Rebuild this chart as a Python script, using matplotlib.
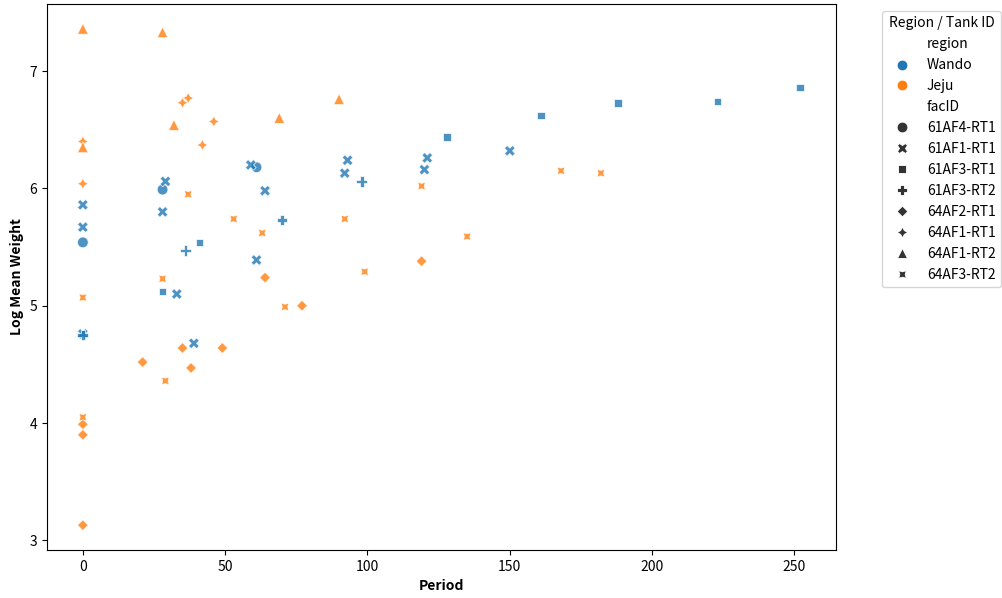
import matplotlib
matplotlib.use("Agg")
from matplotlib import pyplot as plt
import seaborn as sns
import pandas as pd

# facID -> (region, periods, log mean weights)
regions = ['Wando', 'Jeju']
fac_ids = ['61AF4-RT1', '61AF1-RT1', '61AF3-RT1', '61AF3-RT2',
           '64AF2-RT1', '64AF1-RT1', '64AF1-RT2', '64AF3-RT2']
fac_region = ['Wando', 'Wando', 'Wando', 'Wando', 'Jeju', 'Jeju', 'Jeju', 'Jeju']

period_61af4_rt1 = [0, 28, 61]
weight_61af4_rt1 = [5.54, 5.99, 6.18]

period_61af1_rt1 = [0, 0, 0, 29, 28, 33, 39, 59, 64, 61, 93, 92, 121, 120, 150]
weight_61af1_rt1 = [5.86, 5.67, 4.76, 6.06, 5.80, 5.10, 4.68, 6.20, 5.98, 5.39, 6.24, 6.13, 6.26, 6.16, 6.32]

period_61af3_rt1 = [28, 41, 128, 161, 188, 223, 252]
weight_61af3_rt1 = [5.12, 5.54, 6.44, 6.62, 6.73, 6.74, 6.86]

period_61af3_rt2 = [0, 36, 70, 98]
weight_61af3_rt2 = [4.75, 5.47, 5.73, 6.06]

period_64af2_rt1 = [0, 0, 0, 21, 35, 38, 49, 64, 77, 119]
weight_64af2_rt1 = [3.99, 3.90, 3.13, 4.52, 4.64, 4.47, 4.64, 5.24, 5.00, 5.38]

period_64af1_rt1 = [0, 0, 35, 37, 42, 46]
weight_64af1_rt1 = [6.40, 6.04, 6.73, 6.77, 6.37, 6.57]

period_64af1_rt2 = [0, 0, 28, 32, 69, 90]
weight_64af1_rt2 = [7.36, 6.35, 7.33, 6.54, 6.60, 6.76]

period_64af3_rt2 = [0, 0, 28, 29, 37, 53, 63, 71, 92, 99, 119, 135, 168, 182]
weight_64af3_rt2 = [5.07, 4.05, 5.23, 4.36, 5.95, 5.74, 5.62, 4.99, 5.74, 5.29, 6.02, 5.59, 6.15, 6.13]

periods = [period_61af4_rt1, period_61af1_rt1, period_61af3_rt1, period_61af3_rt2,
           period_64af2_rt1, period_64af1_rt1, period_64af1_rt2, period_64af3_rt2]
weights = [weight_61af4_rt1, weight_61af1_rt1, weight_61af3_rt1, weight_61af3_rt2,
           weight_64af2_rt1, weight_64af1_rt1, weight_64af1_rt2, weight_64af3_rt2]

rows = []
for fid, reg, ps, ws in zip(fac_ids, fac_region, periods, weights):
    for p, w in zip(ps, ws):
        rows.append({'Period': p, 'LogMeanWeight': w, 'region': reg, 'facID': fid})
df = pd.DataFrame(rows)

plt.rcParams['font.family'] = ['Noto Sans CJK KR', 'DejaVu Sans']

fig = plt.figure(figsize=(10.03, 5.98), dpi=100)
ax = fig.add_axes([47/1003, 48/598, 789/1003, 546/598])

sns.scatterplot(data=df, x='Period', y='LogMeanWeight', hue='region', hue_order=regions,
                style='facID', style_order=fac_ids, s=60, alpha=0.8, ax=ax)

ax.set_xlabel('Period', fontweight='bold', fontsize=10)
ax.set_ylabel('Log Mean Weight', fontweight='bold', fontsize=10)
ax.set_xticks([0, 50, 100, 150, 200, 250])
ax.set_yticks([3, 4, 5, 6, 7])
leg = ax.legend(title='Region / Tank ID', bbox_to_anchor=(1.05, 1), loc='upper left')
for h in leg.legend_handles:
    h.set_alpha(1)

fig.savefig('out.png', dpi=100)
